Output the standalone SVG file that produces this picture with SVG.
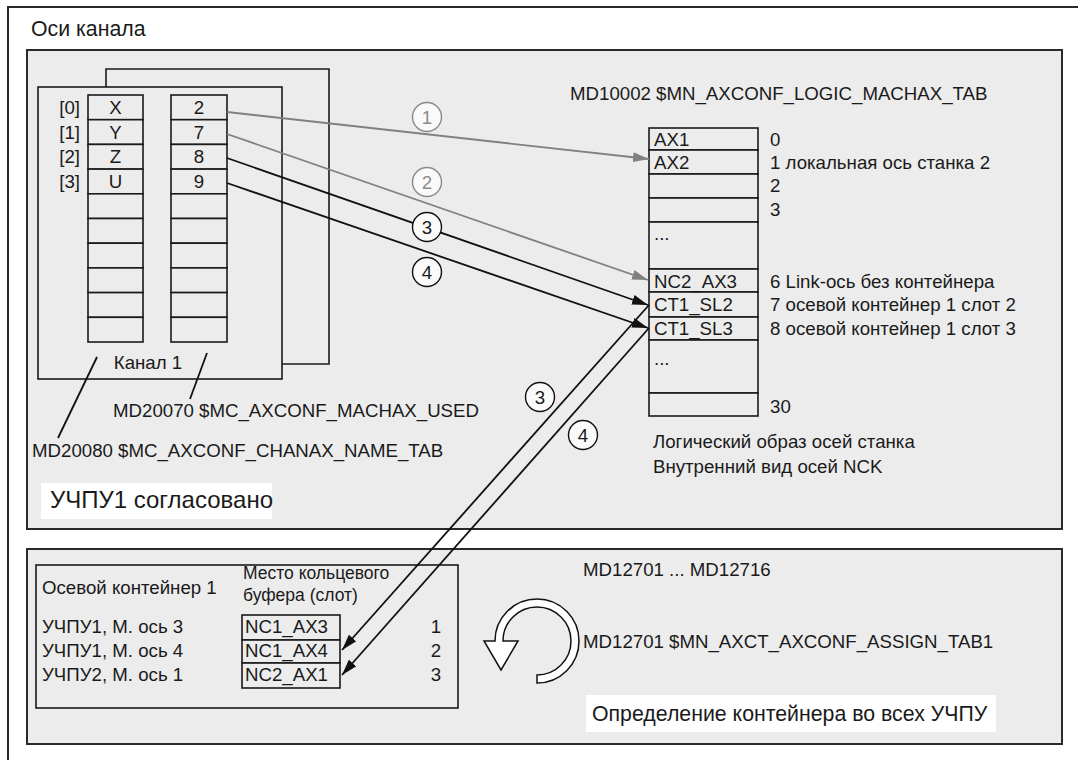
<svg xmlns="http://www.w3.org/2000/svg" width="1078" height="760" viewBox="0 0 1078 760">
<defs>
<style>
text{font-family:"Liberation Sans",Arial,"Noto Sans",sans-serif;fill:#1a1a1a;font-size:18.67px}
.box{fill:#ececec;stroke:#2a2a2a;stroke-width:2}
.cell{fill:#ececec;stroke:#1a1a1a;stroke-width:1.6}
.frame{fill:none;stroke:#1a1a1a;stroke-width:1.6}
.blk{fill:none;stroke:#111;stroke-width:1.8}
.gry{fill:none;stroke:#808080;stroke-width:1.8}
.cg{fill:#fafafa;stroke:#8a8a8a;stroke-width:1.4}
.cb{fill:#fafafa;stroke:#111;stroke-width:1.4}
.mid{text-anchor:middle}
.end{text-anchor:end}
.tg{fill:#8a8a8a}
.big{font-size:24px}
.h{font-size:21.3px}
.sm{font-size:17.5px}
</style>
<marker id="ab" viewBox="0 0 16 10" refX="16" refY="5" markerWidth="16" markerHeight="10" markerUnits="userSpaceOnUse" orient="auto"><path d="M0,0 L16,5 L0,10 z" fill="#111"/></marker>
<marker id="ag" viewBox="0 0 16 10" refX="16" refY="5" markerWidth="16" markerHeight="10" markerUnits="userSpaceOnUse" orient="auto"><path d="M0,0 L16,5 L0,10 z" fill="#808080"/></marker>
</defs>
<rect width="1078" height="760" fill="#fff"/>
<g id="outer-frame">
<path d="M8,760 L8,7 L1078,7" fill="none" stroke="#2a2a2a" stroke-width="2"/>
<text x="31" y="36" class="h">Оси канала</text>
</g>
<g id="nck1-panel">
<rect x="27" y="50" width="1035" height="479" class="box"/>
<rect x="41" y="483" width="231" height="36" fill="#fff"/>
<text x="50" y="508" class="big">УЧПУ1 согласовано</text>
</g>
<g id="channel">
<path d="M106,87 L106,69 L329,69 L329,364 L282,364" class="frame"/>
<rect x="38" y="87" width="244" height="292" class="frame"/>
<g id="chan-names">
<rect x="88" y="95" width="55" height="24.7" class="cell"/>
<rect x="88" y="119.7" width="55" height="24.7" class="cell"/>
<rect x="88" y="144.4" width="55" height="24.7" class="cell"/>
<rect x="88" y="169.1" width="55" height="24.7" class="cell"/>
<rect x="88" y="193.8" width="55" height="24.7" class="cell"/>
<rect x="88" y="218.5" width="55" height="24.7" class="cell"/>
<rect x="88" y="243.2" width="55" height="24.7" class="cell"/>
<rect x="88" y="267.9" width="55" height="24.7" class="cell"/>
<rect x="88" y="292.6" width="55" height="24.7" class="cell"/>
<rect x="88" y="317.3" width="55" height="24.7" class="cell"/>
<text x="115.5" y="114" class="mid">X</text>
<text x="115.5" y="139" class="mid">Y</text>
<text x="115.5" y="163" class="mid">Z</text>
<text x="115.5" y="188" class="mid">U</text>
<text x="80" y="114" class="end">[0]</text>
<text x="80" y="139" class="end">[1]</text>
<text x="80" y="163" class="end">[2]</text>
<text x="80" y="188" class="end">[3]</text>
</g>
<g id="chan-machax">
<rect x="171" y="95" width="56" height="24.7" class="cell"/>
<rect x="171" y="119.7" width="56" height="24.7" class="cell"/>
<rect x="171" y="144.4" width="56" height="24.7" class="cell"/>
<rect x="171" y="169.1" width="56" height="24.7" class="cell"/>
<rect x="171" y="193.8" width="56" height="24.7" class="cell"/>
<rect x="171" y="218.5" width="56" height="24.7" class="cell"/>
<rect x="171" y="243.2" width="56" height="24.7" class="cell"/>
<rect x="171" y="267.9" width="56" height="24.7" class="cell"/>
<rect x="171" y="292.6" width="56" height="24.7" class="cell"/>
<rect x="171" y="317.3" width="56" height="24.7" class="cell"/>
<text x="199" y="114" class="mid">2</text>
<text x="199" y="139" class="mid">7</text>
<text x="199" y="163" class="mid">8</text>
<text x="199" y="188" class="mid">9</text>
</g>
<text x="148" y="369" class="mid">Канал 1</text>
<line x1="97" y1="357" x2="58" y2="438" class="blk" stroke-width="1.5"/>
<line x1="207" y1="353" x2="190" y2="399" class="blk" stroke-width="1.5"/>
<text x="113" y="417">MD20070 $MC_AXCONF_MACHAX_USED</text>
<text x="32" y="457">MD20080 $MC_AXCONF_CHANAX_NAME_TAB</text>
</g>
<g id="logic-machax">
<text x="570" y="100">MD10002 $MN_AXCONF_LOGIC_MACHAX_TAB</text>
<rect x="649" y="128" width="109" height="22" class="cell"/>
<rect x="649" y="150" width="109" height="24" class="cell"/>
<rect x="649" y="174" width="109" height="24" class="cell"/>
<rect x="649" y="198" width="109" height="24" class="cell"/>
<rect x="649" y="222" width="109" height="47" class="cell"/>
<rect x="649" y="269" width="109" height="23" class="cell"/>
<rect x="649" y="292" width="109" height="25" class="cell"/>
<rect x="649" y="317" width="109" height="23" class="cell"/>
<rect x="649" y="340" width="109" height="53" class="cell"/>
<rect x="649" y="393" width="109" height="23" class="cell"/>
<text x="654" y="146">AX1</text>
<text x="654" y="169">AX2</text>
<text x="654" y="240">...</text>
<text x="654" y="288">NC2_AX3</text>
<text x="654" y="311">CT1_SL2</text>
<text x="654" y="335">CT1_SL3</text>
<text x="654" y="365">...</text>
<text x="770" y="146">0</text>
<text x="770" y="169">1 локальная ось станка 2</text>
<text x="770" y="192">2</text>
<text x="770" y="216">3</text>
<text x="770" y="288">6 Link-ось без контейнера</text>
<text x="770" y="311">7 осевой контейнер 1 слот 2</text>
<text x="770" y="335">8 осевой контейнер 1 слот 3</text>
<text x="770" y="413">30</text>
<text x="653" y="448">Логический образ осей станка</text>
<text x="653" y="473">Внутренний вид осей NCK</text>
</g>
<g id="container-panel">
<rect x="27" y="549" width="1035" height="195" class="box"/>
<rect x="36" y="565" width="422" height="143" class="frame"/>
<text x="42" y="594">Осевой контейнер 1</text>
<text x="243" y="579" class="sm">Место кольцевого</text>
<text x="243" y="601" class="sm">буфера (слот)</text>
<text x="42" y="633">УЧПУ1, М. ось 3</text>
<text x="42" y="657">УЧПУ1, М. ось 4</text>
<text x="42" y="681">УЧПУ2, М. ось 1</text>
<rect x="242" y="615" width="98" height="25" class="cell"/>
<rect x="242" y="640" width="98" height="23" class="cell"/>
<rect x="242" y="663" width="98" height="25" class="cell"/>
<text x="245" y="633">NC1_AX3</text>
<text x="245" y="657">NC1_AX4</text>
<text x="245" y="681">NC2_AX1</text>
<text x="436" y="633" class="mid">1</text>
<text x="436" y="657" class="mid">2</text>
<text x="436" y="681" class="mid">3</text>
<text x="583" y="576">MD12701 ... MD12716</text>
<path d="M537,683 A42,42 0 1 0 495,641 L484,641 L501,670 L518,641 L503,641 A34,34 0 1 1 537,675 Z" fill="#fff" stroke="#111" stroke-width="1.5"/>
<text x="583" y="648">MD12701 $MN_AXCT_AXCONF_ASSIGN_TAB1</text>
<rect x="586" y="695" width="410" height="37" fill="#fff"/>
<text x="592" y="721" class="h">Определение контейнера во всех УЧПУ</text>
</g>
<g id="connectors">
<line x1="227" y1="112" x2="649" y2="159" class="gry" marker-end="url(#ag)"/>
<line x1="227" y1="134" x2="648" y2="280" class="gry" marker-end="url(#ag)"/>
<line x1="227" y1="158" x2="648" y2="305" class="blk" marker-end="url(#ab)"/>
<line x1="227" y1="183" x2="648" y2="328" class="blk" marker-end="url(#ab)"/>
<line x1="649" y1="305" x2="342" y2="650" class="blk" marker-end="url(#ab)"/>
<line x1="649" y1="328" x2="342" y2="675" class="blk" marker-end="url(#ab)"/>
</g>
<g id="labels">
<circle cx="427" cy="117" r="14.5" class="cg"/>
<text x="427" y="124" class="mid tg">1</text>
<circle cx="427" cy="182" r="14.5" class="cg"/>
<text x="427" y="189" class="mid tg">2</text>
<circle cx="427" cy="227" r="14.5" class="cb"/>
<text x="427" y="234" class="mid">3</text>
<circle cx="427" cy="272" r="14.5" class="cb"/>
<text x="427" y="279" class="mid">4</text>
<circle cx="540" cy="397" r="14.5" class="cb"/>
<text x="540" y="404" class="mid">3</text>
<circle cx="583" cy="435" r="14.5" class="cb"/>
<text x="583" y="442" class="mid">4</text>
</g>
</svg>
